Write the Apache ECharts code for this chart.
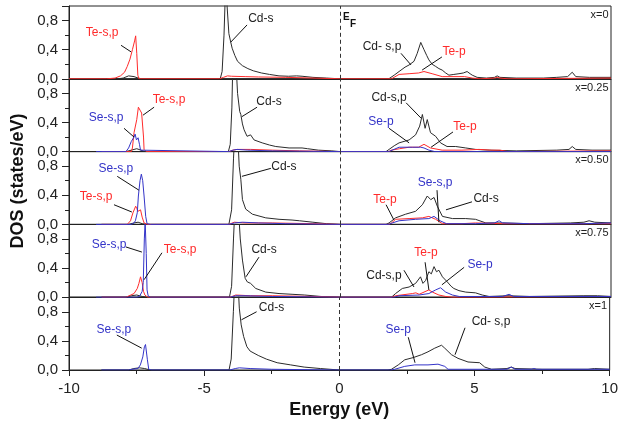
<!DOCTYPE html>
<html><head><meta charset="utf-8">
<script src="https://cdn.jsdelivr.net/npm/echarts@6/dist/echarts.min.js"></script>
<style>html,body{margin:0;padding:0;background:#fff}#c{width:621px;height:426px}</style>
</head><body><div id="c"></div>
<script>
// ---- data ----
const panelLabels = ['x=0', 'x=0.25', 'x=0.50', 'x=0.75', 'x=1'];
const xRange = [-10, 10];
const yRange = [0, 1.0];

// x = 0
const cd0 = [[-8.8,0],[-8.2,0],[-8.0,0.01],[-7.8,0.04],[-7.6,0.03],[-7.45,0.01],[-7.3,0],[-4.42,0],[-4.35,0.1],[-4.28,0.6],[-4.22,1.3],[-4.15,1.3],[-4.1,0.62],[-4.03,0.5],[-3.98,0.42],[-3.88,0.32],[-3.78,0.24],[-3.6,0.18],[-3.4,0.14],[-3.2,0.11],[-2.9,0.08],[-2.6,0.06],[-2.25,0.04],[-1.9,0.035],[-1.6,0.04],[-1.4,0.035],[-1.0,0.02],[-0.5,0.01],[0,0],[1.8,0],[2.0,0.05],[2.18,0.10],[2.4,0.16],[2.55,0.19],[2.73,0.24],[2.85,0.35],[2.98,0.50],[3.1,0.40],[3.2,0.32],[3.28,0.26],[3.4,0.2],[3.53,0.17],[3.65,0.14],[3.77,0.12],[3.9,0.08],[4.02,0.05],[4.2,0.06],[4.39,0.07],[4.55,0.08],[4.69,0.10],[4.8,0.07],[4.88,0.05],[5.06,0.02],[5.4,0.01],[5.7,0.02],[5.8,0.04],[5.9,0.02],[6.5,0.01],[7.5,0.01],[8.0,0.02],[8.4,0.03],[8.57,0.09],[8.7,0.03],[9.2,0.02],[10,0.02]];
const te0 = [[-10,0],[-8.6,0],[-8.3,0.01],[-8.1,0.04],[-7.95,0.09],[-7.85,0.17],[-7.75,0.27],[-7.66,0.40],[-7.58,0.52],[-7.54,0.59],[-7.50,0.35],[-7.46,0.05],[-7.42,0],[-4.45,0],[-4.3,0.02],[-4.15,0.04],[-4.0,0.035],[-3.5,0.03],[-3.0,0.025],[-2.0,0.02],[-1.0,0.01],[0,0],[1.9,0],[2.18,0.06],[2.55,0.07],[2.9,0.08],[3.1,0.10],[3.4,0.07],[3.77,0.03],[4.6,0.03],[4.88,0.01],[5.2,0],[5.7,0.01],[5.8,0.02],[5.9,0.01],[6.2,0],[10,0.01]];

// x = 0.25
const cd25 = [[-8.8,0],[-7.9,0],[-7.7,0.02],[-7.5,0.04],[-7.35,0.02],[-7.2,0],[-4.12,0],[-4.05,0.1],[-3.99,0.6],[-3.95,1.3],[-3.85,1.3],[-3.78,0.8],[-3.7,0.55],[-3.66,0.51],[-3.6,0.38],[-3.54,0.30],[-3.43,0.21],[-3.3,0.23],[-3.17,0.16],[-2.87,0.12],[-2.6,0.09],[-2.37,0.07],[-1.88,0.05],[-1.4,0.05],[-1.2,0.04],[-0.8,0.02],[-0.3,0.01],[0,0],[1.7,0],[1.81,0.03],[2.0,0.08],[2.18,0.12],[2.55,0.16],[2.79,0.23],[2.94,0.35],[3.04,0.51],[3.14,0.32],[3.22,0.44],[3.34,0.26],[3.53,0.21],[3.71,0.12],[3.95,0.07],[4.27,0.07],[4.64,0.05],[5.0,0.03],[5.5,0.02],[6.5,0.01],[8.0,0.02],[8.45,0.03],[8.57,0.07],[8.7,0.03],[9.3,0.02],[10,0.02]];
const te25 = [[-8.8,0],[-7.7,0],[-7.66,0.05],[-7.6,0.26],[-7.5,0.44],[-7.44,0.61],[-7.38,0.57],[-7.32,0.53],[-7.29,0.52],[-7.25,0.2],[-7.23,0.03],[-7.15,0],[-4.1,0],[-3.95,0.02],[-3.8,0.03],[-3.3,0.03],[-2.5,0.02],[-1.5,0.01],[0,0],[1.8,0],[1.9,0.02],[2.2,0.04],[2.55,0.06],[2.9,0.06],[3.1,0.10],[3.34,0.05],[3.77,0.02],[4.5,0.02],[5.13,0.03],[5.6,0.02],[5.9,0.02],[6.2,0],[10,0.01]];
const se25 = [[-9.0,0],[-7.9,0],[-7.8,0.05],[-7.7,0.14],[-7.6,0.2],[-7.56,0.24],[-7.51,0.16],[-7.45,0.19],[-7.4,0.1],[-7.36,0.02],[-7.3,0],[-4.1,0],[-3.95,0.02],[-3.8,0.03],[-3.4,0.02],[-2.5,0.01],[0,0],[1.8,0],[2.18,0.06],[2.67,0.06],[2.98,0.06],[3.1,0.05],[3.28,0.02],[3.5,0],[10,0]];

// x = 0.50
const cd50 = [[-8.8,0],[-7.8,0],[-7.6,0.02],[-7.45,0.03],[-7.3,0.01],[-7.1,0],[-4.1,0],[-4.0,0.2],[-3.93,0.9],[-3.88,1.3],[-3.78,1.3],[-3.72,0.8],[-3.66,0.62],[-3.6,0.34],[-3.48,0.21],[-3.23,0.14],[-2.74,0.09],[-2.25,0.07],[-1.77,0.06],[-1.5,0.05],[-1.0,0.03],[-0.5,0.01],[0,0],[1.7,0],[1.81,0.02],[2.05,0.09],[2.42,0.14],[2.79,0.18],[3.04,0.27],[3.22,0.39],[3.35,0.34],[3.47,0.37],[3.59,0.25],[3.78,0.11],[4.15,0.08],[4.64,0.08],[5.0,0.07],[5.38,0.02],[6.0,0.02],[7.0,0.01],[8.5,0.02],[9.0,0.03],[9.19,0.05],[9.4,0.03],[10,0.02]];
const te50 = [[-8.8,0],[-7.85,0],[-7.73,0.05],[-7.64,0.16],[-7.54,0.25],[-7.5,0.22],[-7.46,0.18],[-7.4,0.19],[-7.36,0.2],[-7.3,0.1],[-7.23,0.02],[-7.1,0],[-4.1,0],[-3.9,0.03],[-3.5,0.02],[-2.5,0.02],[-1,0.01],[0,0],[1.8,0],[1.9,0.02],[2.05,0.07],[2.55,0.08],[3.04,0.09],[3.28,0.11],[3.53,0.07],[3.78,0.01],[4.5,0.01],[5.0,0.02],[6.0,0.01],[10,0.01]];
const se50 = [[-9.0,0],[-7.7,0],[-7.6,0.02],[-7.55,0.05],[-7.48,0.16],[-7.44,0.39],[-7.38,0.6],[-7.33,0.69],[-7.28,0.6],[-7.23,0.39],[-7.17,0.11],[-7.12,0.01],[-7.0,0],[-4.1,0],[-3.9,0.02],[-3.6,0.03],[-3.0,0.02],[-2,0.01],[0,0],[1.8,0],[1.93,0.02],[2.18,0.05],[2.79,0.07],[3.28,0.08],[3.47,0.11],[3.69,0.05],[3.93,0.01],[5.0,0.01],[5.7,0.02],[5.87,0.05],[6.0,0.02],[7.0,0.01],[9.0,0.01],[10,0.02]];

// x = 0.75
const cd75 = [[-8.8,0],[-7.9,0],[-7.7,0.02],[-7.5,0.03],[-7.3,0.01],[-7.1,0],[-4.08,0],[-4.0,0.15],[-3.93,0.8],[-3.87,1.3],[-3.76,1.3],[-3.68,0.8],[-3.6,0.51],[-3.5,0.26],[-3.42,0.21],[-3.36,0.22],[-3.3,0.19],[-3.11,0.12],[-2.74,0.07],[-2.25,0.05],[-1.77,0.04],[-1.3,0.03],[-0.7,0.01],[0,0],[1.9,0],[2.05,0.05],[2.3,0.12],[2.55,0.14],[2.79,0.19],[2.97,0.28],[3.06,0.19],[3.16,0.23],[3.28,0.35],[3.37,0.32],[3.47,0.42],[3.56,0.35],[3.65,0.37],[3.78,0.28],[3.96,0.21],[4.1,0.15],[4.2,0.12],[4.39,0.09],[4.64,0.07],[5.0,0.06],[5.25,0.03],[5.5,0.01],[6.2,0.02],[7,0.01],[9.0,0.02],[9.5,0.02],[10,0.01]];
const te75 = [[-8.8,0],[-7.9,0],[-7.85,0.01],[-7.72,0.03],[-7.6,0.05],[-7.54,0.07],[-7.48,0.12],[-7.42,0.19],[-7.36,0.28],[-7.3,0.2],[-7.25,0.08],[-7.2,0.03],[-7.1,0],[-4.05,0],[-3.85,0.03],[-3.3,0.02],[-2.5,0.02],[-1,0.01],[0,0],[1.9,0],[2.05,0.02],[2.67,0.05],[2.8,0.06],[2.92,0.04],[3.1,0.07],[3.28,0.1],[3.41,0.07],[3.65,0.03],[3.9,0.01],[4.15,0],[10,0.01]];
const se75 = [[-9.0,0],[-7.5,0],[-7.4,0.01],[-7.36,0.03],[-7.3,0.08],[-7.26,0.2],[-7.22,0.8],[-7.19,1.05],[-7.15,0.6],[-7.12,0.1],[-7.08,0.02],[-7.0,0],[-4.05,0],[-3.85,0.02],[-3.5,0.02],[-2.5,0.01],[0,0],[2.0,0],[2.18,0.02],[2.92,0.03],[3.28,0.05],[3.53,0.1],[3.71,0.13],[3.9,0.07],[4.15,0.03],[4.4,0.01],[6.0,0.01],[6.24,0.04],[6.4,0.01],[10,0.01]];

// x = 1
const cd100 = [[-8.8,0],[-7.8,0],[-7.6,0.02],[-7.4,0.03],[-7.2,0.02],[-7.0,0],[-4.08,0],[-4.0,0.15],[-3.92,0.8],[-3.86,1.3],[-3.76,1.3],[-3.7,0.85],[-3.63,0.62],[-3.54,0.46],[-3.42,0.32],[-3.3,0.26],[-3.0,0.2],[-2.7,0.15],[-2.3,0.1],[-1.8,0.07],[-1.3,0.04],[-0.7,0.02],[0,0],[1.8,0],[1.93,0.01],[2.18,0.07],[2.42,0.14],[2.73,0.17],[3.04,0.21],[3.28,0.25],[3.53,0.3],[3.78,0.34],[3.9,0.3],[4.15,0.21],[4.39,0.16],[4.76,0.11],[5.19,0.10],[5.38,0.04],[5.63,0.01],[6.2,0.02],[6.36,0.04],[6.5,0.02],[7.5,0.01],[9.2,0.01],[9.44,0.02],[10,0.01]];
const se100 = [[-8.8,0],[-7.8,0],[-7.66,0.01],[-7.45,0.02],[-7.36,0.07],[-7.27,0.18],[-7.21,0.32],[-7.17,0.35],[-7.1,0.14],[-7.05,0.01],[-6.95,0],[-4.05,0],[-3.85,0.02],[-3.7,0.03],[-3.3,0.02],[-2.5,0.01],[0,0],[1.9,0],[2.05,0.01],[2.42,0.05],[2.79,0.07],[3.28,0.07],[3.65,0.08],[3.9,0.05],[4.02,0.01],[6.2,0.01],[6.36,0.04],[6.5,0.01],[7.1,0.01],[7.2,0.02],[7.3,0.01],[10,0.01]];

const cdSets = [cd0, cd25, cd50, cd75, cd100];
const teSets = [te0, te25, te50, te75, null];
const seSets = [null, se25, se50, se75, se100];

// annotation labels: [panel, text, kind, textX, textY, arrowFromX, arrowFromY, arrowToX, arrowToY]
const notes = [
  [0,'Te-s,p','te',-8.78,0.63,-8.08,0.46,-7.71,0.37],
  [0,'Cd-s','cd',-2.92,0.83,-3.43,0.74,-4.04,0.50],
  [0,'Cd- s,p','cd',1.55,0.44,2.25,0.35,2.62,0.19],
  [0,'Te-p','te',4.21,0.37,3.76,0.30,3.03,0.12],
  [1,'Te-s,p','te',-6.31,0.71,-6.86,0.61,-7.27,0.50],
  [1,'Se-s,p','se',-8.63,0.46,-7.97,0.32,-7.6,0.20],
  [1,'Cd-s','cd',-2.62,0.68,-3.06,0.61,-3.62,0.48],
  [1,'Cd-s,p','cd',1.81,0.74,2.44,0.67,2.99,0.46],
  [1,'Se-p','se',1.51,0.41,1.81,0.32,2.55,0.12],
  [1,'Te-p','te',4.61,0.34,4.17,0.27,3.36,0.06],
  [2,'Se-s,p','se',-8.27,0.77,-8.22,0.66,-7.42,0.47],
  [2,'Te-s,p','te',-9.0,0.38,-8.34,0.27,-7.68,0.17],
  [2,'Cd-s','cd',-2.07,0.79,-2.55,0.77,-3.62,0.66],
  [2,'Te-p','te',1.66,0.34,1.70,0.27,1.99,0.06],
  [2,'Se-s,p','se',3.51,0.57,3.58,0.47,3.65,0.03],
  [2,'Cd-s','cd',5.39,0.36,4.87,0.31,3.91,0.20],
  [3,'Se-s,p','se',-8.52,0.72,-7.9,0.69,-7.31,0.62],
  [3,'Te-s,p','te',-5.9,0.65,-6.57,0.61,-7.23,0.24],
  [3,'Cd-s','cd',-2.8,0.65,-2.99,0.55,-3.47,0.28],
  [3,'Cd-s,p','cd',1.62,0.30,2.36,0.37,2.73,0.14],
  [3,'Te-p','te',3.17,0.61,3.14,0.48,3.28,0.10],
  [3,'Se-p','se',5.17,0.44,4.58,0.41,3.76,0.17],
  [4,'Se-s,p','se',-8.34,0.56,-8.23,0.48,-7.31,0.30],
  [4,'Cd-s','cd',-2.51,0.85,-3.06,0.80,-3.62,0.69],
  [4,'Se-p','se',2.18,0.55,2.55,0.45,2.8,0.10],
  [4,'Cd- s,p','cd',5.61,0.66,4.65,0.58,4.28,0.21]
];

// ---- styles / layout ----
const COL = {cd:'#2b2b2b', te:'#ff2b2b', se:'#3434c8'};
const FONT = 'Liberation Sans, Arial, sans-serif';
const N = 5, TOP = 6, PH = 72.8, LEFT = 69, W = 542;

const grids = [], xAxes = [], yAxes = [], series = [];
for (let i = 0; i < N; i++) {
  const last = i === N - 1;
  grids.push({left: LEFT, width: W, top: TOP + PH * i, height: PH,
    show: true, borderColor: '#222', borderWidth: 1, backgroundColor: 'transparent'});
  xAxes.push({type: 'value', gridIndex: i, min: xRange[0], max: xRange[1], interval: 5,
    axisLine: {show: true, onZero: false, lineStyle: {color: '#222', width: 1}},
    axisTick: {show: last, length: 6, lineStyle: {color: '#222'}},
    minorTick: {show: last, splitNumber: 2, length: 4, lineStyle: {color: '#222'}},
    axisLabel: {show: last, fontSize: 15, color: '#222', margin: 11, fontFamily: FONT},
    splitLine: {show: false},
    name: last ? 'Energy (eV)' : '', nameLocation: 'middle', nameGap: 31,
    nameTextStyle: {fontSize: 18, fontWeight: 'bold', color: '#111', fontFamily: FONT}});
  yAxes.push({type: 'value', gridIndex: i, min: yRange[0], max: yRange[1], interval: 0.4,
    axisLine: {show: true, onZero: false, lineStyle: {color: '#222', width: 1}},
    axisTick: {show: true, length: 7, lineStyle: {color: '#222'}},
    minorTick: {show: true, splitNumber: 2, length: 4, lineStyle: {color: '#222'}},
    axisLabel: {fontSize: 15, color: '#222', margin: 11, showMaxLabel: false, fontFamily: FONT,
      formatter: v => v.toFixed(1).replace('.', ',')},
    splitLine: {show: false}});

  const base = {type: 'line', xAxisIndex: i, yAxisIndex: i, showSymbol: false, symbol: 'none',
    smooth: false, clip: true, silent: true, animation: false};
  series.push(Object.assign({}, base, {name: 'cd' + i, data: cdSets[i],
    lineStyle: {color: COL.cd, width: 1},
    markLine: {silent: true, symbol: 'none', animation: false,
      lineStyle: {color: '#333', type: [4, 3], width: 1}, label: {show: false},
      data: [{xAxis: 0}]}}));
  if (teSets[i]) series.push(Object.assign({}, base, {name: 'te' + i, data: teSets[i],
    lineStyle: {color: COL.te, width: 1}}));
  if (seSets[i]) series.push(Object.assign({}, base, {name: 'se' + i, data: seSets[i],
    lineStyle: {color: COL.se, width: 1}}));

  const pn = notes.filter(n => n[0] === i);
  series.push(Object.assign({}, base, {name: 'notes' + i, data: [],
    markLine: {silent: true, animation: false, symbol: ['none', 'arrow'], symbolSize: [0, 8],
      lineStyle: {color: '#111', type: 'solid', width: 1}, label: {show: false},
      data: pn.map(n => [{coord: [n[5], n[6]]}, {coord: [n[7], n[8]]}])},
    markPoint: {silent: true, animation: false, symbol: 'rect', symbolSize: 1,
      itemStyle: {color: 'rgba(0,0,0,0)'},
      data: pn.map(n => ({coord: [n[3], n[4]],
        label: {show: true, position: 'inside', formatter: n[1], color: n[2] === 'cd' ? '#222' : COL[n[2]],
          fontSize: 12, fontFamily: FONT}})).concat([{coord: [xRange[1], 0.88],
        label: {show: true, position: 'left', distance: 2, formatter: panelLabels[i], color: '#222',
          fontSize: 11, fontFamily: FONT}}])}}));
}

const chart = echarts.init(document.getElementById('c'), null, {renderer: 'canvas'});
chart.setOption({
  animation: false,
  backgroundColor: '#fff',
  textStyle: {fontFamily: FONT},
  grid: grids, xAxis: xAxes, yAxis: yAxes, series: series,
  graphic: [
    {type: 'text', x: 18, y: 181, rotation: Math.PI / 2,
      style: {text: 'DOS (states/eV)', font: 'bold 18px ' + FONT, fill: '#111',
        align: 'center', verticalAlign: 'middle'}},
    {type: 'text', x: 343, y: 12, style: {text: 'E', font: 'bold 10px ' + FONT, fill: '#111'}},
    {type: 'text', x: 350, y: 19, style: {text: 'F', font: 'bold 10px ' + FONT, fill: '#111'}}
  ]
});
</script></body></html>
